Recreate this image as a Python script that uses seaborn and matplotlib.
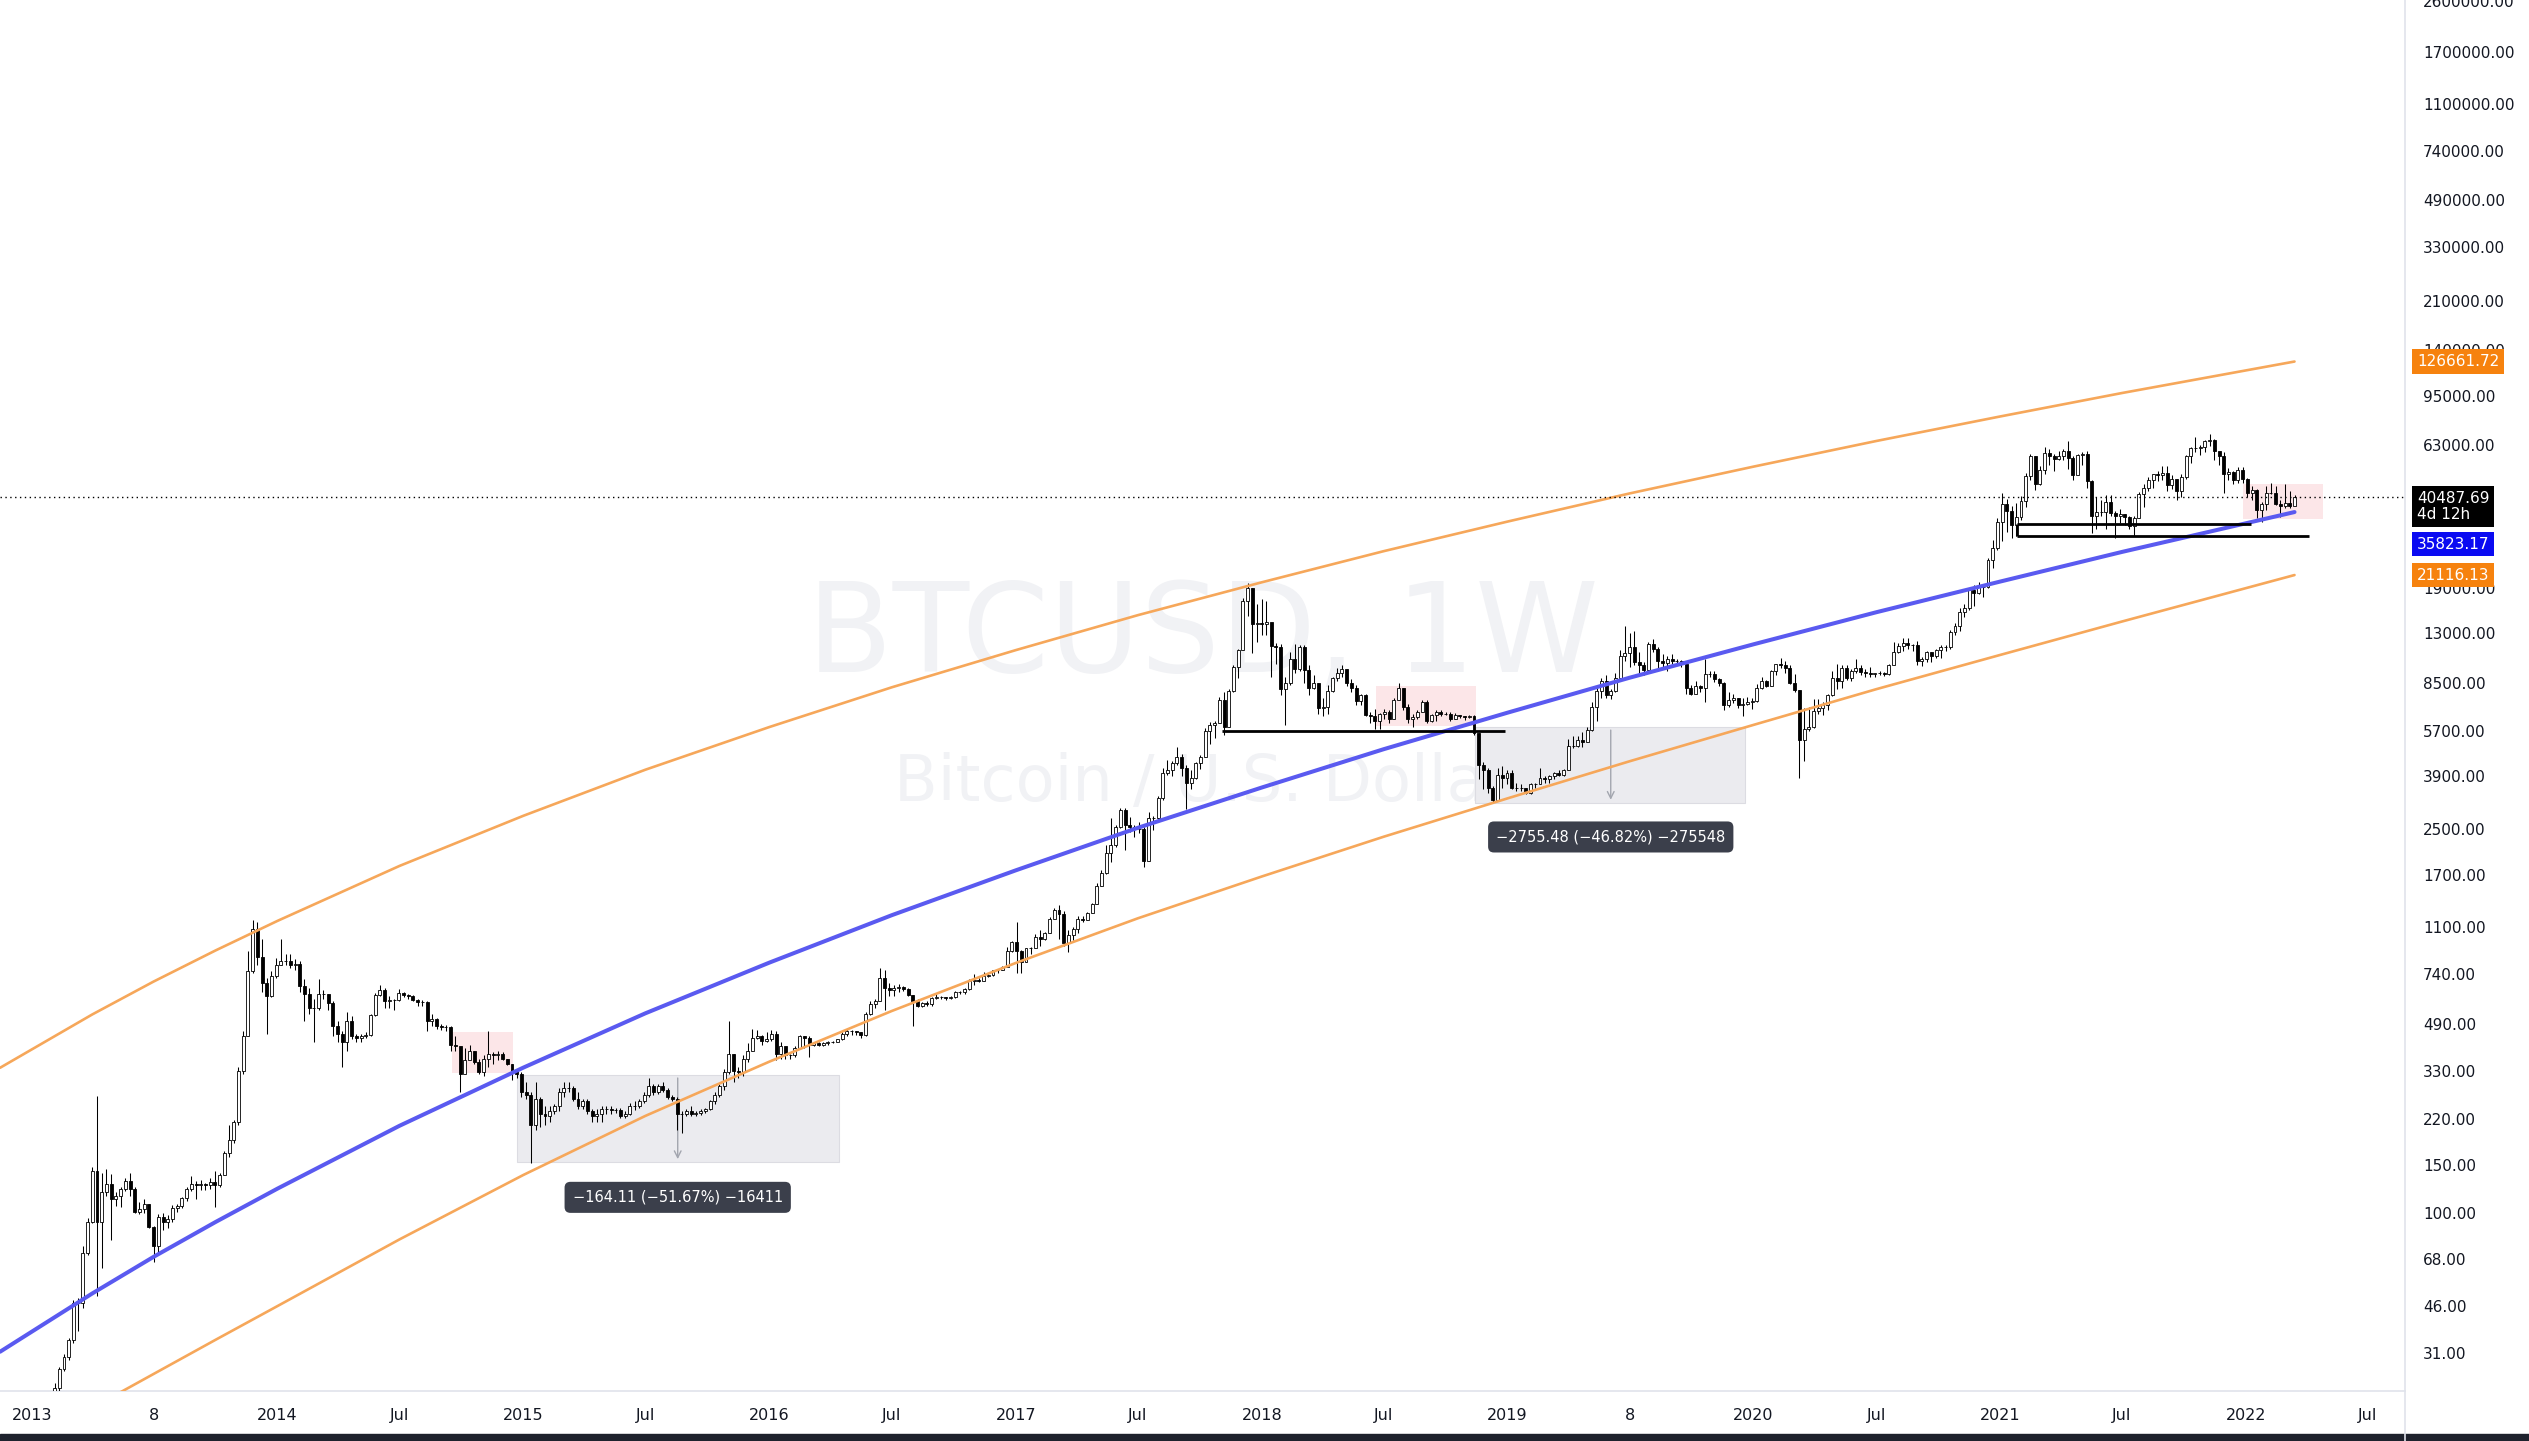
import numpy as np
import pandas as pd
import matplotlib
matplotlib.use("Agg")
import matplotlib.pyplot as plt
import matplotlib.dates as mdates
import matplotlib.ticker as mticker
import matplotlib.transforms as mtransforms
from matplotlib.patches import Rectangle
from matplotlib.lines import Line2D
import seaborn as sns

# Weekly BTCUSD candles, first week starts Monday 2013-01-07 (open of first candle)
first_open = 13.5

close_2013 = [14.2, 15.7, 17.5, 20.4, 23, 27, 29.8, 34.5, 46.9, 46.9, 71.5, 93,
              142, 93, 119, 128, 112, 115, 122, 131, 122, 101, 103, 108, 89,
              76, 97, 93, 95, 104, 106, 113, 122, 128, 126, 127, 126, 130, 126,
              138, 165, 185, 215, 330, 440, 760, 1080, 860, 690, 620, 730, 800]
high_2013 = [14.5, 16, 18, 21, 24, 27.5, 30.5, 35, 48, 49, 76, 96,
             147, 266, 140, 145, 139, 119, 124, 134, 140, 124, 110, 112, 108,
             90, 99, 100, 98, 107, 108, 114, 124, 136, 131, 132, 129, 134, 142,
             140, 168, 210, 218, 340, 460, 900, 1165, 1150, 1000, 720, 760, 850]
low_2013 = [13.3, 14, 15.5, 17, 19.5, 22.5, 26.5, 29, 33.5, 37, 45, 70,
            92, 50, 63, 115, 80, 106, 105, 120, 115, 100, 99, 100, 88,
            66, 71, 87, 88, 93, 101, 104, 111, 120, 112, 121, 121, 122, 105,
            124, 137, 160, 180, 210, 320, 440, 750, 800, 640, 450, 610, 720]

close_2014 = [830, 830, 800, 810, 670, 630, 560, 560, 630, 630, 580, 480, 450,
              420, 500, 440, 435, 440, 445, 525, 625, 650, 590, 595, 595, 635,
              625, 620, 595, 585, 585, 500, 510, 480, 475, 475, 410, 405, 320,
              360, 390, 355, 325, 365, 380, 375, 380, 365, 350, 330, 320, 275]
high_2014 = [1000, 880, 880, 840, 830, 710, 660, 600, 710, 650, 630, 590, 500,
             460, 540, 520, 450, 450, 455, 530, 635, 680, 660, 615, 600, 655,
             640, 630, 625, 600, 595, 590, 530, 515, 490, 485, 480, 440, 395,
             400, 410, 390, 365, 375, 460, 385, 390, 385, 365, 350, 335, 325]
low_2014 = [800, 800, 780, 770, 640, 500, 530, 420, 550, 600, 550, 440, 420,
            340, 390, 430, 420, 420, 435, 440, 520, 620, 560, 560, 550, 590,
            610, 600, 590, 570, 570, 460, 480, 470, 465, 460, 390, 390, 275,
            320, 370, 350, 320, 315, 340, 350, 360, 360, 345, 305, 310, 265]

close_2015 = [270, 210, 260, 230, 225, 235, 245, 275, 285, 285, 260, 245, 255,
              235, 225, 230, 240, 240, 237, 237, 225, 230, 245, 245, 255, 270,
              290, 275, 290, 280, 265, 260, 230, 230, 235, 230, 232, 236, 240,
              255, 270, 290, 325, 380, 330, 325, 365, 390, 435, 440, 425, 430]
high_2015 = [300, 275, 300, 265, 245, 245, 250, 285, 300, 300, 290, 275, 260,
             260, 240, 240, 245, 245, 245, 242, 242, 235, 252, 255, 260, 275,
             310, 295, 295, 300, 285, 270, 265, 235, 240, 245, 235, 240, 242,
             258, 275, 295, 335, 500, 380, 340, 375, 415, 470, 465, 445, 455]
low_2015 = [260, 152, 200, 205, 210, 215, 230, 235, 265, 275, 255, 240, 240,
            230, 215, 215, 215, 230, 230, 232, 222, 222, 228, 238, 242, 252,
            265, 270, 272, 275, 260, 255, 200, 195, 225, 225, 225, 228, 232,
            238, 250, 265, 280, 320, 300, 310, 315, 355, 390, 430, 410, 420]

close_2016 = [450, 380, 405, 375, 375, 400, 440, 435, 410, 415, 410, 415, 420,
              420, 430, 450, 460, 460, 455, 445, 530, 575, 590, 720, 660, 650,
              660, 665, 655, 625, 590, 570, 580, 575, 605, 610, 610, 605, 612,
              640, 640, 655, 700, 705, 700, 730, 735, 765, 770, 790, 900, 970]
high_2016 = [465, 460, 420, 400, 380, 405, 445, 440, 440, 420, 420, 420, 425,
             425, 432, 455, 468, 465, 460, 455, 540, 590, 600, 780, 770, 690,
             680, 685, 670, 660, 625, 600, 585, 590, 610, 630, 615, 612, 615,
             645, 645, 660, 715, 740, 720, 755, 750, 770, 775, 795, 930, 980]
low_2016 = [425, 360, 365, 365, 365, 370, 395, 400, 370, 405, 405, 405, 410,
            415, 420, 428, 440, 445, 445, 435, 440, 525, 560, 590, 550, 615,
            615, 640, 645, 615, 480, 565, 565, 570, 570, 600, 600, 595, 600,
            605, 630, 630, 650, 680, 695, 700, 725, 730, 750, 765, 790, 890]

close_2017 = [900, 820, 920, 920, 1010, 1000, 1050, 1180, 1270, 1230, 960, 1030, 1080,
              1180, 1170, 1240, 1340, 1550, 1730, 2050, 2200, 2550, 2950, 2600, 2550, 2500,
              2500, 1920, 2750, 2750, 3250, 4000, 4100, 4350, 4600, 4200, 3700, 3850, 4350,
              4600, 5700, 6000, 6100, 7400, 5900, 8000, 9800, 11300, 17000, 19000, 14000, 14100]
high_2017 = [1150, 910, 925, 930, 1040, 1070, 1060, 1200, 1290, 1330, 1260, 1070, 1100,
             1210, 1210, 1250, 1350, 1600, 1780, 2200, 2760, 2600, 3000, 2980, 2770, 2600,
             2650, 2550, 2900, 2800, 3300, 4200, 4480, 4450, 4980, 4700, 4300, 4100, 4400,
             4650, 5850, 6150, 6200, 7600, 7900, 8100, 9900, 11400, 17400, 19700, 19000, 16500]
low_2017 = [750, 750, 820, 880, 920, 940, 990, 1050, 1180, 1000, 940, 890, 990,
            1050, 1150, 1170, 1240, 1340, 1550, 1720, 1900, 2150, 2530, 2100, 2450, 2350,
            2420, 1830, 1920, 2480, 2650, 3200, 3950, 3900, 4300, 3900, 2970, 3500, 3800,
            4150, 4600, 5100, 5400, 6100, 5500, 5900, 7900, 8900, 11300, 15000, 11000, 12000]

close_2018 = [14000, 14200, 11600, 11500, 8100, 8500, 10400, 9600, 11500, 9500, 8200, 8500, 6900,
              7000, 8000, 8900, 9300, 9600, 8500, 8200, 7350, 7700, 6500, 6450, 6200, 6600,
              6700, 6300, 7400, 8200, 7000, 6300, 6400, 6700, 7300, 6200, 6500, 6700, 6600,
              6600, 6300, 6500, 6450, 6400, 6450, 5600, 4300, 4100, 3550, 3200, 3950, 3850, 4000]
high_2018 = [17200, 17000, 14100, 11900, 11800, 9000, 11100, 11800, 11700, 11700, 9900, 9100, 8500,
             7500, 8400, 8950, 9700, 9900, 9600, 8800, 8400, 7800, 7800, 6700, 6850, 6650,
             6850, 6800, 7500, 8500, 8200, 7150, 6600, 6800, 7400, 7400, 6600, 6800, 6800,
             6700, 6700, 6650, 6500, 6480, 6550, 6500, 5600, 4400, 4200, 3600, 4200, 4250, 4100]
low_2018 = [12800, 12800, 9000, 10000, 7700, 6000, 8400, 9300, 9400, 8500, 7700, 8100, 6600,
            6450, 6600, 7900, 8700, 9000, 8300, 7900, 7100, 7100, 6450, 6100, 5800, 5800,
            6300, 6100, 6300, 7400, 6800, 6100, 5900, 6300, 6700, 6100, 6150, 6200, 6450,
            6500, 6200, 6300, 6350, 6250, 6350, 5500, 3800, 3500, 3400, 3150, 3200, 3550, 3650]

close_2019 = [3550, 3550, 3550, 3400, 3650, 3650, 3850, 3820, 3900, 4000, 3950, 4100,
              5050, 5050, 5300, 5200, 5750, 7000, 8000, 8700, 7700, 8000, 8900, 10700, 11000,
              11500, 10200, 9900, 9500, 11800, 11400, 10300, 10100, 10400, 10300, 10300, 10000, 8200, 7800,
              8300, 8200, 9200, 9200, 8800, 8500, 7100, 7400, 7500, 7100, 7150, 7250, 7350]
high_2019 = [4100, 3700, 3650, 3550, 3700, 3700, 4200, 3900, 3950, 4050, 4100, 4150,
             5350, 5450, 5450, 5650, 5900, 7300, 8300, 8900, 9100, 8100, 9300, 11300, 13800,
             13000, 13200, 11100, 10200, 12000, 12300, 11500, 10900, 10700, 10900, 10400, 10350, 10100, 8400,
             8700, 8400, 10400, 9450, 9400, 8900, 8600, 7900, 7800, 7500, 7500, 7600, 7500]
low_2019 = [3500, 3450, 3450, 3350, 3350, 3550, 3650, 3700, 3700, 3800, 3900, 3900,
            4100, 4950, 5000, 5000, 5200, 5700, 6200, 7500, 7500, 7450, 7900, 8900, 10300,
            9800, 9900, 9100, 9100, 9400, 11100, 9500, 9800, 9400, 10000, 9900, 9750, 7800, 7700,
            7800, 7900, 7300, 8950, 8600, 8300, 6800, 7000, 7200, 6900, 6450, 7100, 6850]

close_2020 = [8200, 8650, 8350, 9400, 10000, 9900, 9700, 8550, 8050, 5300, 5800, 5900, 6750,
              6900, 7100, 7700, 8900, 8700, 9700, 8900, 9450, 9650, 9350, 9300, 9200, 9250,
              9300, 9200, 9950, 11100, 11600, 11900, 11700, 11700, 10300, 10450, 11100, 10700, 11300,
              11500, 11500, 13100, 13800, 15500, 16000, 18700, 18200, 19100, 19150, 24000, 26500, 33000]
high_2020 = [8450, 8950, 8750, 9550, 10050, 10500, 10250, 9950, 9200, 8050, 6900, 6950, 7450,
             7450, 7300, 7800, 9450, 10000, 9950, 9950, 9600, 10400, 9950, 9600, 9800, 9300,
             9450, 9350, 10050, 12000, 11900, 12450, 12500, 11800, 12100, 10600, 11200, 11100, 11350,
             11700, 11700, 13300, 14100, 15950, 16500, 18900, 19500, 19900, 19450, 24300, 28400, 34000]
low_2020 = [7300, 8100, 8250, 8300, 9150, 9700, 9300, 8450, 7900, 3850, 4450, 5700, 5850,
            6600, 6500, 6800, 7650, 8100, 8200, 8750, 8650, 9250, 9100, 9000, 8950, 8950,
            9100, 9050, 9150, 9950, 11000, 11200, 11400, 11200, 9900, 9850, 10200, 10150, 10500,
            10550, 11200, 11400, 12800, 13200, 14800, 15800, 16300, 18000, 17600, 19000, 22400, 26000]

close_2021 = [38200, 36000, 32200, 34300, 39200, 48500, 57400, 45300, 51000, 59000, 57400, 55800, 57100,
              60000, 56200, 49000, 57800, 58200, 46400, 34700, 35700, 35800, 39000, 35600, 34700, 35300,
              34300, 31800, 34000, 41600, 43800, 47000, 49300, 48900, 49900, 44800, 47300, 42900, 48200,
              57500, 61500, 61300, 61900, 64900, 65500, 59800, 57300, 49400, 50100, 46700, 50800, 47300]
high_2021 = [42000, 40000, 37800, 38500, 40900, 49700, 58300, 57500, 52600, 61800, 60600, 58300, 60000,
             61000, 64900, 57500, 58500, 59500, 59600, 46700, 40800, 39500, 41300, 41400, 36000, 36600,
             35100, 34700, 34700, 42500, 45300, 48100, 49400, 50500, 52900, 52900, 48800, 47200, 49200,
             57800, 62000, 67000, 63000, 65500, 69000, 66400, 59300, 59100, 51900, 50500, 52100, 52100]
low_2021 = [28000, 30400, 28800, 29200, 33400, 37400, 47000, 43000, 45000, 49200, 53300, 50400, 55600,
            55500, 51500, 47000, 48800, 53000, 43900, 30000, 31100, 34600, 31000, 34800, 28800, 32700,
            32100, 31000, 29300, 34000, 37500, 42900, 43900, 46300, 46800, 42800, 43300, 39600, 40800,
            47100, 53900, 59500, 57800, 59400, 62300, 55600, 53300, 42000, 46700, 45500, 45600, 45700]

close_2022 = [41900, 43100, 36300, 38200, 42200, 42100, 38400, 37700, 38800, 37800, 40487.69]
high_2022 = [47500, 44400, 43500, 38900, 44500, 45800, 44700, 39800, 45400, 42600, 41500]
low_2022 = [40600, 39700, 34000, 32900, 36300, 41700, 38000, 34300, 37200, 37200, 38200]

# Regression bands (values at each date)
band_dates = ["2012-11-15", "2013-04-01", "2013-07-01", "2013-10-01", "2014-01-01", "2014-07-01",
              "2015-01-01", "2015-07-01", "2016-01-01", "2016-07-01", "2017-01-01", "2017-07-01",
              "2018-01-01", "2018-07-01", "2019-01-01", "2019-07-01", "2020-01-01", "2020-07-01",
              "2021-01-01", "2021-07-01", "2022-03-14"]
upper_vals = [338, 529, 697, 905, 1160, 1839, 2802, 4123, 5898, 8236, 11250, 15080,
              19870, 25800, 33080, 41880, 52450, 65010, 79880, 97270, 126661.72]
mid_vals = [31.2, 50.9, 69.2, 92.7, 122.7, 207.8, 338.7, 534, 817, 1217, 1773, 2532,
            3551, 4898, 6656, 8922, 11810, 15450, 19990, 25640, 35823.17]
lower_vals = [15.5, 19.5, 25.9, 34.5, 45.8, 80.1, 137.6, 225.8, 355.9, 544.8, 815, 1185,
              1683, 2350, 3243, 4426, 6006, 8102, 10800, 14300, 21116.13]

last_price = 40487.69

y_ticks = [31, 46, 68, 100, 150, 220, 330, 490, 740, 1100, 1700, 2500, 3900, 5700, 8500,
           13000, 19000, 63000, 95000, 140000, 210000, 330000, 490000,
           740000, 1100000, 1700000, 2600000]
x_tick_dates = ["2013-01-01", "2013-07-01", "2014-01-01", "2014-07-01", "2015-01-01", "2015-07-01",
                "2016-01-01", "2016-07-01", "2017-01-01", "2017-07-01", "2018-01-01", "2018-07-01",
                "2019-01-01", "2019-07-01", "2020-01-01", "2020-07-01", "2021-01-01", "2021-07-01",
                "2022-01-01", "2022-07-01"]
x_tick_labels = ["2013", "8", "2014", "Jul", "2015", "Jul", "2016", "Jul", "2017", "Jul",
                 "2018", "Jul", "2019", "8", "2020", "Jul", "2021", "Jul", "2022", "Jul"]


def dnum(d):
    return mdates.date2num(pd.to_datetime(d).to_pydatetime())


close = np.array(close_2013 + close_2014 + close_2015 + close_2016 + close_2017 +
                 close_2018 + close_2019 + close_2020 + close_2021 + close_2022, dtype=float)
high = np.array(high_2013 + high_2014 + high_2015 + high_2016 + high_2017 +
                high_2018 + high_2019 + high_2020 + high_2021 + high_2022, dtype=float)
low = np.array(low_2013 + low_2014 + low_2015 + low_2016 + low_2017 +
               low_2018 + low_2019 + low_2020 + low_2021 + low_2022, dtype=float)
opens = np.r_[first_open, close[:-1]]
weeks = dnum(pd.date_range("2013-01-07", periods=len(close), freq="7D"))

sns.set_theme(style="white")
plt.rcParams["font.family"] = ["DejaVu Sans"]

fig = plt.figure(figsize=(25.29, 14.41), dpi=100)
ax = fig.add_axes([0, 50 / 1441, 2405 / 2529, 1391 / 1441])
ax.set_yscale("log")
ax.set_facecolor("white")

# watermark
ax.text(0.5, 0.542, "BTCUSD, 1W", transform=ax.transAxes, ha="center", va="center",
        fontsize=90, color="#f1f2f5", zorder=0)
ax.text(0.5, 0.437, "Bitcoin / U.S. Dollar", transform=ax.transAxes, ha="center", va="center",
        fontsize=46, color="#f1f2f5", zorder=0)

# highlight boxes
pink = "#fce6e8"
for d0, d1, lo, hi in [("2014-09-17", "2014-12-16", 324, 457),
                       ("2018-06-19", "2018-11-15", 5953, 8330),
                       ("2021-12-28", "2022-04-26", 33820, 45380)]:
    x0, x1 = dnum(d0), dnum(d1)
    ax.add_patch(Rectangle((x0, lo), x1 - x0, hi - lo, fc=pink, ec="none", zorder=1))

# measurement boxes
gray = "#ebebef"
measures = [("2014-12-23", "2016-04-13", 153.5, 317.6, "2015-08-18", 114, "\u2212164.11 (\u221251.67%) \u221216411"),
            ("2018-11-14", "2019-12-20", 3130, 5885, "2019-06-03", 2345, "\u22122755.48 (\u221246.82%) \u2212275548")]
for d0, d1, lo, hi, da, ly, txt in measures:
    x0, x1 = dnum(d0), dnum(d1)
    ax.add_patch(Rectangle((x0, lo), x1 - x0, hi - lo, fc=gray, ec="#dcdce2", lw=0.8, zorder=1))
    xa = dnum(da)
    ax.annotate("", xy=(xa, lo), xytext=(xa, hi),
                arrowprops=dict(arrowstyle="->", color="#a3a6af", lw=1.0), zorder=2)
    ax.text(xa, ly, txt, ha="center", va="center", color="white", fontsize=10.5, zorder=8,
            bbox=dict(boxstyle="round,pad=0.55,rounding_size=0.4", fc="#3b3f4b", ec="none"))

# candles
up = close >= opens
ax.vlines(weeks, low, high, color="black", lw=0.75, zorder=3)
ax.bar(weeks, np.abs(close - opens), bottom=np.minimum(opens, close), width=4.4,
       color=np.where(up, "white", "black"), edgecolor="black", linewidth=0.6, zorder=4)

# bands
bx = dnum(band_dates)
sns.lineplot(x=bx, y=upper_vals, ax=ax, color="#f6a75a", linewidth=1.9, zorder=5)
sns.lineplot(x=bx, y=mid_vals, ax=ax, color="#5a5af0", linewidth=2.9, zorder=5)
sns.lineplot(x=bx, y=lower_vals, ax=ax, color="#f6a75a", linewidth=1.9, zorder=5)

# support lines
ax.hlines(5700, dnum("2017-11-03"), dnum("2018-12-28"), color="black", lw=2, zorder=6)
ax.hlines(29400, dnum("2021-01-26"), dnum("2022-04-05"), color="black", lw=2, zorder=6)
ax.hlines(32400, dnum("2021-01-26"), dnum("2022-01-08"), color="black", lw=2, zorder=6)
ax.vlines(dnum("2021-01-26"), 29400, 32400, color="black", lw=2, zorder=6)

ax.axhline(last_price, color="black", lw=1, ls=(0, (1, 2.5)), zorder=6)

ax.set_xlim(dnum("2012-11-15"), dnum("2022-08-25"))
ax.set_ylim(22.45, 2.631e6)

ax.yaxis.tick_right()
ax.set_yticks(y_ticks)
ax.set_yticklabels([f"{v:.2f}" for v in y_ticks])
ax.yaxis.set_minor_locator(mticker.NullLocator())
ax.tick_params(axis="y", length=0, pad=13, labelsize=11, colors="#131722")
ax.set_xticks(dnum(x_tick_dates))
ax.set_xticklabels(x_tick_labels)
ax.xaxis.set_minor_locator(mticker.NullLocator())
ax.tick_params(axis="x", length=0, pad=12, labelsize=11.5, colors="#131722")
ax.set_xlabel("")
ax.set_ylabel("")
ax.grid(False)
for s in ["top", "left"]:
    ax.spines[s].set_visible(False)
for s in ["bottom", "right"]:
    ax.spines[s].set_color("#e0e3eb")
    ax.spines[s].set_linewidth(1.2)

# price tags on the scale
tr = mtransforms.blended_transform_factory(ax.transAxes, ax.transData)
tags = [(126661.72, "126661.72", "#f6820e", 0),
        (last_price, "40487.69\n4d 12h", "#000000", -9),
        (35823.17, "35823.17", "#0a0af2", -32),
        (21116.13, "21116.13", "#f6820e", 0)]
for val, txt, col, dy in tags:
    ax.annotate(txt, xy=(1, val), xycoords=tr, xytext=(12, dy), textcoords="offset pixels",
                ha="left", va="center", color="white", fontsize=11, linespacing=1.15,
                bbox=dict(boxstyle="square,pad=0.3", fc=col, ec="none"),
                annotation_clip=False, zorder=9)

fig.add_artist(Line2D([2405 / 2529] * 2, [0, 50 / 1441], transform=fig.transFigure,
                      color="#e0e3eb", lw=1.2))
fig.add_artist(Rectangle((0, 0), 1, 7 / 1441, transform=fig.transFigure, color="#1e222d"))

fig.savefig("out.png", dpi=100, facecolor="white")
